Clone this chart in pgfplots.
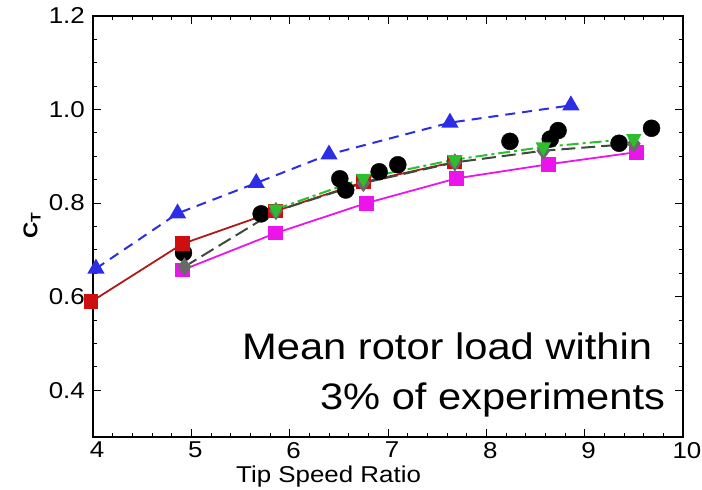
\documentclass[border=0pt]{standalone}
\usepackage{pgfplots}
\pgfplotsset{compat=1.18}
\usepackage{fontspec}
\setmainfont{Liberation Sans}[FakeStretch=1.13]
\definecolor{cblue}{RGB}{45,45,230}
\definecolor{cred}{RGB}{205,15,15}
\definecolor{credline}{RGB}{175,25,25}
\definecolor{cmag}{RGB}{235,20,235}
\definecolor{cgreen}{RGB}{45,190,45}
\definecolor{cgray}{RGB}{105,105,105}
\definecolor{cgrayline}{RGB}{60,75,60}
\begin{document}
\begin{tikzpicture}
\path[use as bounding box] (-93bp,-53bp) rectangle (609bp,437bp);
\begin{axis}[
  at={(0,0)}, anchor=south west,
  scale only axis, width=590bp, height=421bp,
  xmin=4, xmax=10, ymin=0.3, ymax=1.2,
  xtick={4,5,6,7,8,9,10}, ytick={0.4,0.6,0.8,1.0,1.2},
  minor x tick num=4, minor y tick num=3,
  tick align=inside,
  major tick length=8bp, minor tick length=4bp,
  axis line style={line width=1.4bp},
  every tick/.style={black, line width=0.9bp},
  /pgf/number format/assume math mode=true,
  yticklabel style={/pgf/number format/fixed, /pgf/number format/fixed zerofill, /pgf/number format/precision=1, font=\fontsize{23}{26}\selectfont, inner sep=0pt, xshift=-8bp},
  xticklabel style={font=\fontsize{23}{26}\selectfont, inner sep=0pt, yshift=-5bp, xshift=4bp},
  clip=false,
]
% experiments
\addplot[only marks, mark=*, mark size=8.5bp, mark options={fill=black, draw=black}] coordinates {
(4.92,0.694) (5.71,0.777) (6.51,0.852) (6.57,0.828) (6.91,0.867) (7.10,0.882)
(8.24,0.932) (8.65,0.937) (8.73,0.955) (9.35,0.928) (9.68,0.960)};
% magenta
\addplot[cmag, line width=1.8bp, mark=square*, mark size=6.5bp, mark options={solid, fill=cmag, draw=cmag}] coordinates {
(4.91,0.657) (5.86,0.736) (6.78,0.800) (7.70,0.853) (8.63,0.883) (9.53,0.909)};
% red
\addplot[credline, line width=1.8bp, mark=square*, mark size=6.5bp, mark options={solid, fill=cred, draw=cred}] coordinates {
(3.98,0.589) (4.91,0.713) (5.86,0.783) (6.75,0.845) (7.68,0.888)};
% gray dashed diamonds
\addplot[cgrayline, line width=2bp, dash pattern=on 14bp off 6bp, mark=diamond*, mark size=7.5bp, mark options={solid, fill=cgray, draw=cgray}] coordinates {
(4.93,0.664) (5.86,0.783) (6.75,0.843) (7.68,0.887) (8.58,0.912) (9.50,0.927)};
% green dash-dot
\addplot[cgreen, line width=2bp, dash pattern=on 12bp off 4bp on 3bp off 4bp, mark=triangle*, mark size=7bp, mark options={solid, fill=cgreen, draw=cgreen, rotate=180}] coordinates {
(5.86,0.787) (6.75,0.853) (7.68,0.893) (8.58,0.920) (9.50,0.938)};
% blue dashed triangles
\addplot[cblue, line width=2bp, dash pattern=on 10bp off 7bp, mark=triangle*, mark size=8bp, mark options={solid, fill=cblue, draw=cblue}] coordinates {
(4.03,0.660) (4.86,0.778) (5.66,0.843) (6.40,0.904) (7.63,0.972) (8.86,1.009)};
% annotation
\node[anchor=base east, inner sep=0pt, font=\fontsize{37}{44}\selectfont] at (axis cs:9.687,0.4647) {Mean rotor load within};
\node[anchor=base east, inner sep=0pt, font=\fontsize{37}{44}\selectfont] at (axis cs:9.819,0.3578) {3\% of experiments};
% axis labels
\node[anchor=base, inner sep=0pt, font=\fontsize{23}{26}\selectfont] at ([yshift=-45bp]axis cs:6.396,0.3) {Tip Speed Ratio};
\node[rotate=90, inner sep=0pt, font=\fontsize{20}{22}\bfseries] at ([xshift=-61bp]axis cs:4,0.753) {C\textsubscript{T}};
\end{axis}
\end{tikzpicture}
\end{document}
